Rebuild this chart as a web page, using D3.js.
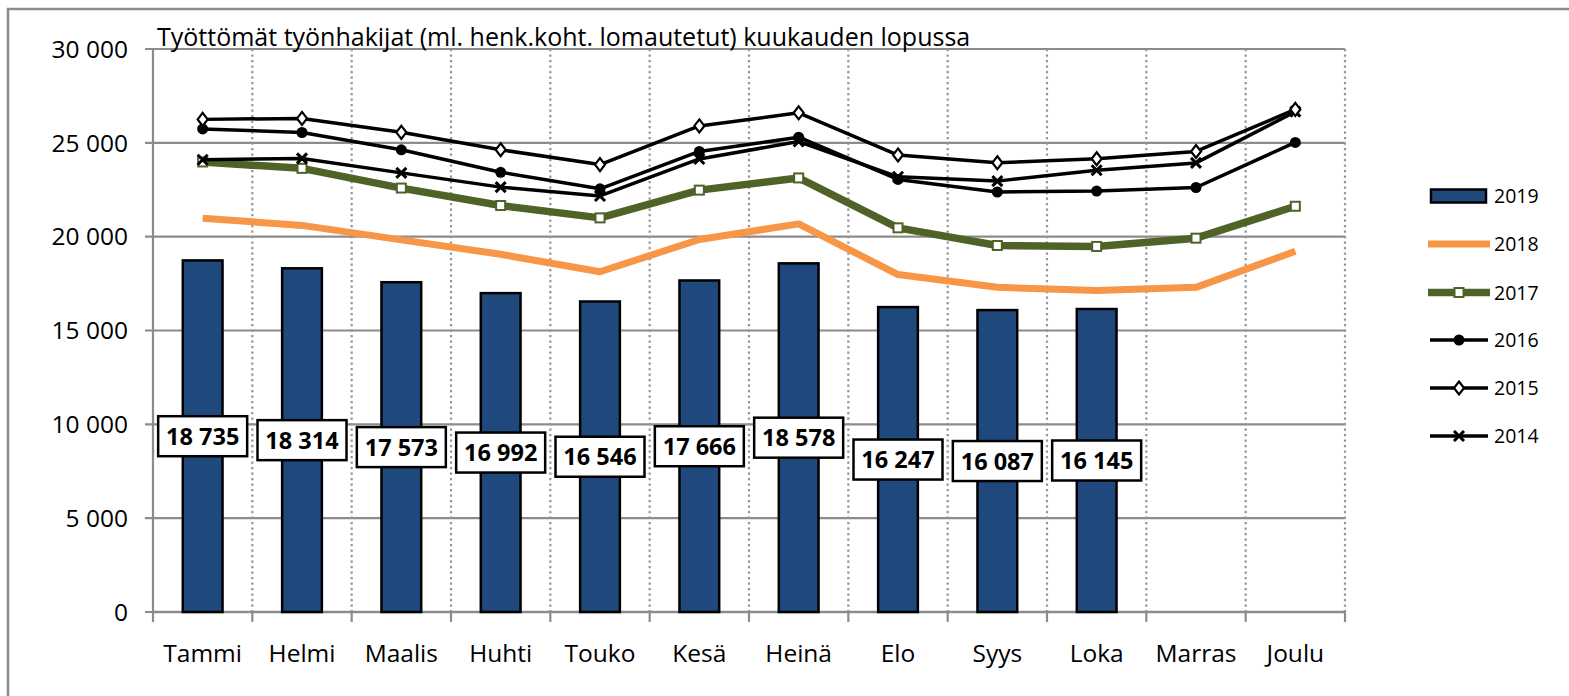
<!DOCTYPE html>
<html><head><meta charset="utf-8">
<script src="https://cdn.jsdelivr.net/npm/d3@7"></script>
<style>
html,body{margin:0;padding:0;background:#fff;}
svg{display:block;font-family:"Open Sans",sans-serif;}
</style></head>
<body>
<svg id="c" width="1569" height="696"></svg>
<script>
const title = "Työttömät työnhakijat (ml. henk.koht. lomautetut) kuukauden lopussa";
const months = ["Tammi","Helmi","Maalis","Huhti","Touko","Kesä","Heinä","Elo","Syys","Loka","Marras","Joulu"];
const yTickValues = [0,5000,10000,15000,20000,25000,30000];
const v2019 = [18735,18314,17573,16992,16546,17666,18578,16247,16087,16145,null,null];
const v2018 = [20980,20600,19830,19060,18130,19850,20680,17980,17300,17130,17300,19220];
const v2017 = [23980,23640,22590,21660,21000,22480,23130,20470,19530,19480,19920,21620];
const v2016 = [25740,25550,24630,23430,22550,24540,25300,23050,22380,22430,22620,25020];
const v2015 = [26250,26300,25560,24630,23840,25900,26600,24350,23940,24150,24540,26780];
const v2014 = [24100,24170,23400,22640,22170,24140,25070,23190,22960,23540,23930,26660];
const seriesNames = ["2019","2018","2017","2016","2015","2014"];

const svg = d3.select("#c");
const L = 153, R = 1345, T = 49, B = 612;
const x = d3.scaleBand().domain(months).range([L,R]).paddingInner(0.6).paddingOuter(0.3);
const xc = m => x(m) + x.bandwidth()/2;
const step = x.step();
const y = d3.scaleLinear().domain([0,30000]).range([B,T]);
const fmt = v => d3.format(",")(v).replace(/,/g," ");

// outer border
svg.append("rect").attr("x",8).attr("y",9).attr("width",1600).attr("height",720)
  .attr("fill","none").attr("stroke","#8c8c8c").attr("stroke-width",2.5);

// horizontal gridlines
svg.append("g").selectAll("line").data(yTickValues).join("line")
  .attr("x1",L-8).attr("x2",R).attr("y1",d=>y(d)).attr("y2",d=>y(d))
  .attr("stroke","#8c8c8c").attr("stroke-width",2.2);
// vertical dotted gridlines at category boundaries
const bounds = months.map((m,i)=> L + step*(i+1));
svg.append("g").selectAll("line").data(bounds).join("line")
  .attr("x1",d=>d).attr("x2",d=>d).attr("y1",T).attr("y2",B)
  .attr("stroke","#949494").attr("stroke-width",2.2).attr("stroke-dasharray","2.2,3.3");
// axes
svg.append("line").attr("x1",L).attr("x2",L).attr("y1",T).attr("y2",B)
  .attr("stroke","#8c8c8c").attr("stroke-width",2.2);
svg.append("g").selectAll("line").data([L].concat(bounds)).join("line")
  .attr("x1",d=>d).attr("x2",d=>d).attr("y1",B).attr("y2",B+10)
  .attr("stroke","#8c8c8c").attr("stroke-width",2.2);
svg.append("line").attr("x1",L).attr("x2",R).attr("y1",B).attr("y2",B)
  .attr("stroke","#8c8c8c").attr("stroke-width",2.5);

// y tick labels
svg.append("g").selectAll("text").data(yTickValues).join("text")
  .attr("x",128).attr("y",d=>y(d)).attr("dy","0.36em").attr("text-anchor","end")
  .attr("font-size",24.5).attr("fill","#000").text(d=>fmt(d));
// x labels
svg.append("g").selectAll("text").data(months).join("text")
  .attr("x",d=>xc(d)).attr("y",653).attr("dy","0.36em").attr("text-anchor","middle")
  .attr("font-size",24.5).attr("fill","#000").text(d=>d);
// title
svg.append("text").attr("x",157).attr("y",46).attr("font-size",25).attr("fill","#000").text(title);

// bars
const barData = months.map((m,i)=>({m, v:v2019[i]})).filter(d=>d.v!=null);
svg.append("g").selectAll("rect").data(barData).join("rect")
  .attr("x",d=>x(d.m)).attr("y",d=>y(d.v)).attr("width",x.bandwidth()).attr("height",d=>B-y(d.v))
  .attr("fill","#1F497D").attr("stroke","#000").attr("stroke-width",2.5);

const line = d3.line().x(d=>xc(d.m)).y(d=>y(d.v));
function series(vals){ return months.map((m,i)=>({m, v:vals[i]})); }

// 2018
svg.append("path").datum(series(v2018)).attr("d",line).attr("fill","none")
  .attr("stroke","#F79646").attr("stroke-width",7).attr("stroke-linejoin","round");
// 2017
svg.append("path").datum(series(v2017)).attr("d",line).attr("fill","none")
  .attr("stroke","#4F6228").attr("stroke-width",7.5).attr("stroke-linejoin","round");
svg.append("g").selectAll("rect").data(series(v2017)).join("rect")
  .attr("x",d=>xc(d.m)-4.5).attr("y",d=>y(d.v)-4.5).attr("width",9).attr("height",9)
  .attr("fill","#fff").attr("stroke","#4F6228").attr("stroke-width",2);
// 2014
svg.append("path").datum(series(v2014)).attr("d",line).attr("fill","none")
  .attr("stroke","#000").attr("stroke-width",3.5).attr("stroke-linejoin","round");
svg.append("g").selectAll("path").data(series(v2014)).join("path")
  .attr("d",d=>{const cx=xc(d.m), cy=y(d.v), r=5; return `M${cx-r},${cy-r}L${cx+r},${cy+r}M${cx-r},${cy+r}L${cx+r},${cy-r}`;})
  .attr("stroke","#000").attr("stroke-width",3);
// 2016
svg.append("path").datum(series(v2016)).attr("d",line).attr("fill","none")
  .attr("stroke","#000").attr("stroke-width",3.5).attr("stroke-linejoin","round");
svg.append("g").selectAll("circle").data(series(v2016)).join("circle")
  .attr("cx",d=>xc(d.m)).attr("cy",d=>y(d.v)).attr("r",5.5).attr("fill","#000");
// 2015
svg.append("path").datum(series(v2015)).attr("d",line).attr("fill","none")
  .attr("stroke","#000").attr("stroke-width",3.5).attr("stroke-linejoin","round");
svg.append("g").selectAll("path").data(series(v2015)).join("path")
  .attr("d",d=>{const cx=xc(d.m), cy=y(d.v); return `M${cx},${cy-6.5}L${cx+5},${cy}L${cx},${cy+6.5}L${cx-5},${cy}Z`;})
  .attr("fill","#fff").attr("stroke","#000").attr("stroke-width",2.2);

// data labels for 2019
const lab = svg.append("g").selectAll("g").data(barData).join("g")
  .attr("transform",d=>`translate(${xc(d.m)},${y(d.v/2)})`);
lab.append("rect").attr("x",-44.5).attr("y",-20).attr("width",89).attr("height",40)
  .attr("fill","#fff").attr("stroke","#000").attr("stroke-width",2.5);
lab.append("text").attr("text-anchor","middle").attr("dy","0.36em")
  .attr("font-size",23.5).attr("font-weight","bold").attr("fill","#000").text(d=>fmt(d.v));

// legend
const legY = [196,244,292.5,340,388,436];
const lg = svg.append("g").selectAll("g").data(seriesNames).join("g")
  .attr("transform",(d,i)=>`translate(0,${legY[i]})`);
lg.append("text").attr("x",1494).attr("dy","0.36em").attr("font-size",19.5).attr("fill","#000").text(d=>d);
lg.each(function(d){
  const g = d3.select(this);
  if(d==="2019"){
    g.append("rect").attr("x",1431).attr("y",-6.5).attr("width",55).attr("height",13)
      .attr("fill","#1F497D").attr("stroke","#000").attr("stroke-width",2.5);
  } else if(d==="2018"){
    g.append("line").attr("x1",1428).attr("x2",1490).attr("stroke","#F79646").attr("stroke-width",7);
  } else if(d==="2017"){
    g.append("line").attr("x1",1428).attr("x2",1490).attr("stroke","#4F6228").attr("stroke-width",7.5);
    g.append("rect").attr("x",1454.5).attr("y",-4.5).attr("width",9).attr("height",9)
      .attr("fill","#fff").attr("stroke","#4F6228").attr("stroke-width",2);
  } else {
    g.append("line").attr("x1",1430).attr("x2",1488).attr("stroke","#000").attr("stroke-width",3.5);
    const cx=1459;
    if(d==="2016") g.append("circle").attr("cx",cx).attr("r",5.5).attr("fill","#000");
    if(d==="2015") g.append("path").attr("d",`M${cx},-6.5L${cx+5},0L${cx},6.5L${cx-5},0Z`)
      .attr("fill","#fff").attr("stroke","#000").attr("stroke-width",2.2);
    if(d==="2014") g.append("path").attr("d",`M${cx-5},-5L${cx+5},5M${cx-5},5L${cx+5},-5`)
      .attr("stroke","#000").attr("stroke-width",3);
  }
});
</script>
</body></html>
